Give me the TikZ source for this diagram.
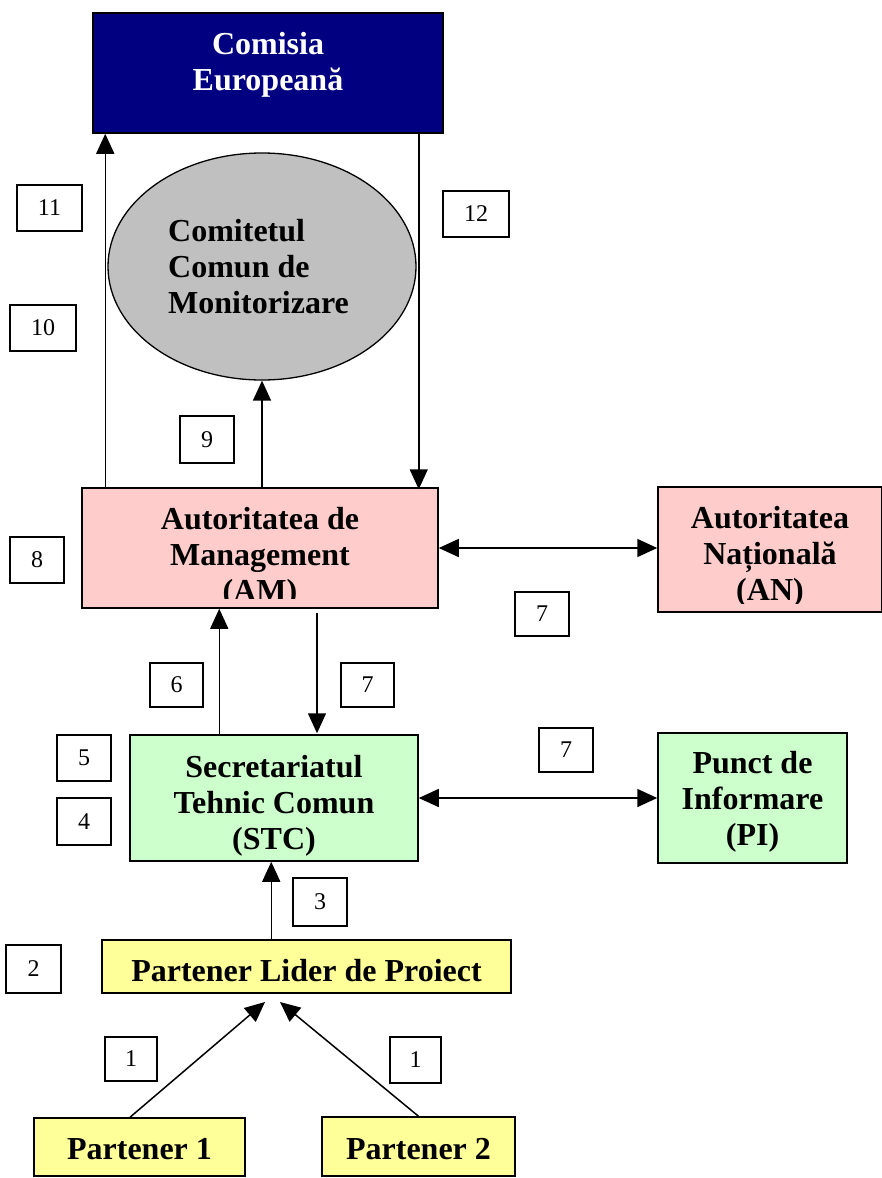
\documentclass[tikz,border=0pt]{standalone}
\usepackage{fontspec}
\setmainfont{Liberation Serif}
\usetikzlibrary{arrows.meta,shapes.geometric,calc}
\definecolor{navy}{HTML}{000080}
\definecolor{cgray}{HTML}{C0C0C0}
\definecolor{cpink}{HTML}{FFCCCC}
\definecolor{cgreen}{HTML}{CCFFCC}
\definecolor{cyell}{HTML}{FFFF99}
\tikzset{
  box/.style={draw, line width=1.5pt, inner sep=0pt},
  btxt/.style={font=\fontsize{32}{36}\selectfont\bfseries, align=center, inner sep=0pt},
  lbl/.style={draw, line width=1.1pt, inner sep=0pt, font=\fontsize{24}{28}\selectfont},
  arr/.style={line width=1.5pt, -{Triangle[length=20pt,width=18pt]}},
  darr/.style={line width=1.5pt, {Triangle[length=20pt,width=18pt]}-{Triangle[length=20pt,width=18pt]}},
}
\begin{document}
\begin{tikzpicture}[x=1pt,y=-1pt]
\useasboundingbox (0,0) rectangle (882,1178);
% boxes
\node[box, fill=navy, minimum width=350pt, minimum height=120pt] (ce) at (268,73) {};
\node[btxt, text=white] (cet) at (268,65) {Comisia\\Europeană};
\node[draw, line width=1.3pt, fill=cgray, ellipse, minimum width=308pt, minimum height=227pt, inner sep=0pt] (cmm) at (262,266.5) {};
\node[btxt, align=left, anchor=west] (cmmt) at (168,267) {Comitetul\\Comun de\\Monitorizare};
\node[box, fill=cpink, minimum width=356pt, minimum height=120pt] (am) at (260,548) {};
\begin{scope}
\clip (am.north west) rectangle ([yshift=10pt]am.south east);
\node[btxt] (amt) at (260,558) {Autoritatea de\\Management\\(AM)};
\end{scope}
\node[box, fill=cpink, minimum width=224pt, minimum height=125pt] (an) at (770,549.5) {};
\begin{scope}
\clip (an.north west) rectangle ([yshift=9pt]an.south east);
\node[btxt] (ant) at (770,557) {Autoritatea\\Națională\\(AN)};
\end{scope}
\node[box, fill=cgreen, minimum width=288pt, minimum height=126pt] (stc) at (274,798) {};
\node[btxt] (stct) at (274,806) {Secretariatul\\Tehnic Comun\\(STC)};
\node[box, fill=cgreen, minimum width=189pt, minimum height=130pt] (pi) at (752.5,798) {};
\node[btxt] (pit) at (752.5,802) {Punct de\\Informare\\(PI)};
\node[box, fill=cyell, minimum width=409pt, minimum height=53pt] (plp) at (306.5,966.5) {};
\node[btxt] (plpt) at (306.5,971) {Partener Lider de Proiect};
\node[box, fill=cyell, minimum width=211pt, minimum height=58pt] (p1) at (139.5,1147) {};
\node[btxt] (p1t) at (139.5,1149) {Partener 1};
\node[box, fill=cyell, minimum width=193pt, minimum height=59pt] (p2) at (418.5,1146.5) {};
\node[btxt] (p2t) at (418.5,1149) {Partener 2};
% labels
\node[lbl, minimum width=65pt, minimum height=46pt] (l11) at (49.5,208) {11};
\node[lbl, minimum width=66pt, minimum height=46pt] (l10) at (43,328) {10};
\node[lbl, minimum width=66pt, minimum height=46pt] (l12) at (476,214) {12};
\node[lbl, minimum width=54pt, minimum height=47pt] (l9) at (207,439.5) {9};
\node[lbl, minimum width=54pt, minimum height=46pt] (l8) at (37,560) {8};
\node[lbl, minimum width=54pt, minimum height=44pt] (l7a) at (542,614) {7};
\node[lbl, minimum width=53pt, minimum height=44pt] (l6) at (176.5,685) {6};
\node[lbl, minimum width=53pt, minimum height=44pt] (l7b) at (367.5,685) {7};
\node[lbl, minimum width=54pt, minimum height=44pt] (l7c) at (566,750) {7};
\node[lbl, minimum width=54pt, minimum height=46pt] (l5) at (84,758) {5};
\node[lbl, minimum width=54pt, minimum height=47pt] (l4) at (84,821.5) {4};
\node[lbl, minimum width=54pt, minimum height=48pt] (l3) at (320,902) {3};
\node[lbl, minimum width=55pt, minimum height=48pt] (l2) at (33.5,969) {2};
\node[lbl, minimum width=52pt, minimum height=44pt] (l1a) at (131,1059) {1};
\node[lbl, minimum width=51pt, minimum height=46pt] (l1b) at (415.5,1060) {1};
% connectors
\coordinate (a11s) at ([xshift=24pt]am.north west);
\draw[arr] (a11s) -- (a11s |- ce.south);
\coordinate (a12s) at ([xshift=-25pt]ce.south east);
\draw[arr] (a12s) -- ([yshift=-2pt]a12s |- am.north);
\draw[arr] (am.north -| cmm.south) -- (cmm.south);
\draw[darr] (am.east) -- (am.east -| an.west);
\coordinate (a6s) at ([xshift=90pt]stc.north west);
\draw[arr] (a6s) -- (a6s |- am.south);
\coordinate (a7s) at ([xshift=57pt,yshift=-4pt]am.south);
\draw[arr] (a7s) -- ([yshift=1pt]a7s |- stc.north);
\draw[darr] (stc.east) -- (stc.east -| pi.west);
\coordinate (a3s) at ([xshift=170pt]plp.north west);
\draw[arr] (a3s) -- (a3s |- stc.south);
\coordinate (t1) at (265,1002);
\coordinate (t2) at (280,1002);
\draw[arr] ([xshift=-9.5pt]p1.north) -- (t1);
\draw[arr] (p2.north) -- (t2);
\end{tikzpicture}
\end{document}
